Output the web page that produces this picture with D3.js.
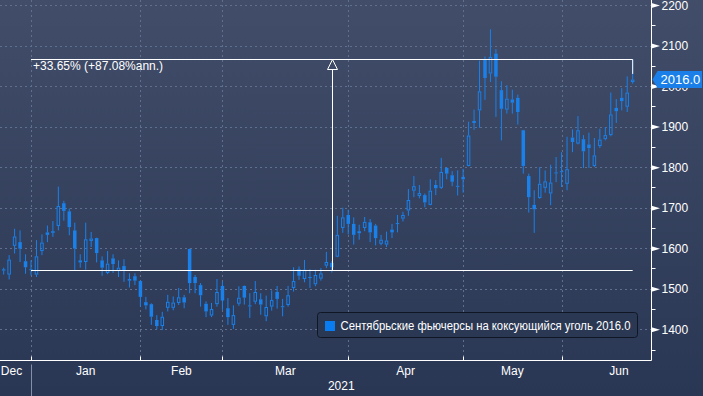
<!DOCTYPE html>
<html><head><meta charset="utf-8">
<script src="https://cdn.jsdelivr.net/npm/d3@7/dist/d3.min.js"></script>
<style>html,body{margin:0;padding:0;background:#2c3955;overflow:hidden}</style>
</head><body><svg id="c" width="703" height="396"></svg>
<script>
// ---------- data ----------
const dayIndex = d3.range(-5, 111); // trading-day index, 0 = first trading day of Jan 2021
const openVals = [1548,1535,1606,1615,1568,
1548,1535,1593,1639,1642,1655,1711,1691,1644,1570,1566,1618,1625,1570,1539,1575,1544,1556,1524,1531,
1519,1467,1462,1423,1408,1453,1453,1465,1479,1598,1529,1509,1463,1434,1462,
1507,1452,1411,1463,1507,1459,1468,1474,1432,1456,1492,1457,1460,1502,1548,1524,1529,1511,1525,1557,1564,1579,1650,
1682,1660,1642,1650,1664,1656,1611,1609,1646,1661,1673,1693,1742,1729,1731,1707,1756,1749,1798,1780,1754,
1776,1803,1914,1940,2065,2031,2080,1990,1942,1967,1971,1891,1778,1707,1724,1749,1735,1787,
1789,1759,1873,1858,1869,1856,1803,1852,1869,1879,1946,1971,1949,2010];
const highVals = [1552,1583,1648,1644,1585,
1570,1620,1634,1656,1667,1752,1717,1698,1663,1585,1663,1640,1626,1580,1593,1585,1570,1573,1538,1538,
1521,1480,1464,1435,1443,1485,1481,1502,1485,1599,1534,1514,1469,1465,1524,
1518,1477,1459,1506,1508,1489,1519,1489,1483,1496,1507,1475,1507,1553,1555,1571,1548,1547,1551,1591,1568,1680,1700,
1695,1676,1658,1677,1672,1660,1633,1641,1660,1682,1690,1746,1778,1756,1735,1770,1768,1823,1800,1790,1792,
1796,1912,1942,2063,2073,2140,2091,2012,2002,1991,1979,1892,1784,1743,1800,1792,1806,1825,
1837,1875,1893,1926,1879,1885,1872,1895,1899,1984,1968,1995,2024,2066];
const lowVals = [1535,1523,1587,1566,1537,
1533,1529,1583,1615,1628,1644,1668,1632,1546,1552,1547,1603,1565,1532,1536,1539,1529,1517,1503,1509,
1456,1449,1411,1400,1398,1444,1447,1460,1452,1489,1489,1456,1430,1430,1456,
1448,1411,1401,1458,1461,1428,1462,1436,1420,1446,1451,1432,1456,1493,1522,1516,1502,1506,1520,1551,1540,1578,1638,
1634,1609,1621,1642,1615,1607,1607,1603,1625,1639,1666,1680,1726,1723,1701,1706,1731,1746,1770,1753,1730,
1737,1802,1892,1897,1966,2010,1924,1866,1932,1932,1905,1784,1688,1638,1722,1737,1706,1763,
1751,1743,1837,1856,1798,1798,1800,1847,1866,1876,1909,1940,1936,2006];
const closeVals = [1545,1572,1629,1599,1553,
1546,1580,1614,1633,1638,1704,1692,1652,1599,1565,1622,1624,1588,1552,1562,1561,1552,1546,1520,1520,
1480,1459,1431,1408,1431,1468,1466,1479,1466,1514,1514,1484,1444,1450,1492,
1471,1430,1435,1478,1478,1458,1492,1461,1455,1472,1475,1456,1484,1519,1532,1547,1528,1534,1538,1566,1553,1633,1676,
1660,1633,1637,1665,1639,1625,1621,1619,1639,1662,1682,1719,1753,1736,1713,1742,1748,1788,1784,1764,1753,
1770,1878,1909,1987,2020,2072,2023,1944,1969,1959,1936,1803,1726,1696,1759,1765,1762,1786,
1790,1795,1862,1891,1839,1847,1829,1868,1879,1930,1938,1963,1984,2016];

const yTicks = [1400,1500,1600,1700,1800,1900,2000,2100,2200];
const yMinorTicks = [1350,1450,1550,1650,1750,1850,1950,2050,2150];
const monthLabels = ["Dec","Jan","Feb","Mar","Apr","May","Jun"];
const monthStarts = [-22,0,20,35,58,79,97];
const lastMonthEnd = 118;
const yearLabel = "2021";
const lastValue = 2016.0;
const legendName = "Сентябрьские фьючерсы на коксующийся уголь";
const baseLevel = 1546, topLevel = 2066;
const changeText = "+33.65% (+87.08%ann.)";

// ---------- layout ----------
const W = 703, H = 396;
const plotR = 651.5, plotB = 360.5;
const blue = "#1a80ea";
const font = "'Liberation Sans', Arial, sans-serif";

const svg = d3.select("#c");
const defs = svg.append("defs");
const g = defs.append("linearGradient").attr("id","bg").attr("x1",0).attr("y1",0).attr("x2",0).attr("y2",1);
g.append("stop").attr("offset","0%").attr("stop-color","#414d69");
g.append("stop").attr("offset","100%").attr("stop-color","#2a3754");
svg.append("rect").attr("width",W).attr("height",H).attr("fill","url(#bg)");

const x = d3.scaleLinear().domain([-5.67, 113.35]).range([0, 651]);
const y = d3.scaleLinear().domain([1400, 2200]).range([329.3, 5]);

// gridlines
const grid = svg.append("g").attr("stroke","#5f6f8d").attr("stroke-width",1).attr("stroke-dasharray","2,3");
grid.selectAll("line.h").data(yTicks).join("line")
  .attr("x1",0).attr("x2",plotR).attr("y1",d=>Math.round(y(d))+0.5).attr("y2",d=>Math.round(y(d))+0.5);
grid.selectAll("line.v").data(monthStarts.filter(d=>d>=0)).join("line")
  .attr("y1",0).attr("y2",plotB).attr("x1",d=>Math.round(x(d))+0.5).attr("x2",d=>Math.round(x(d))+0.5);

// candles
const candles = dayIndex.map((d,i)=>({i:d,o:openVals[i],h:highVals[i],l:lowVals[i],c:closeVals[i]}));
const cg = svg.append("g");
candles.forEach(d=>{
  const cx = x(d.i);
  const top = y(Math.max(d.o,d.c)), bot = y(Math.min(d.o,d.c));
  const up = d.c > d.o;
  let bh = Math.max(bot-top, 1);
  cg.append("line").attr("x1",cx).attr("x2",cx).attr("y1",y(d.h)).attr("y2",top)
    .attr("stroke",blue).attr("stroke-width",1);
  cg.append("line").attr("x1",cx).attr("x2",cx).attr("y1",top+bh).attr("y2",y(d.l))
    .attr("stroke",blue).attr("stroke-width",1);
  if (up && bh > 2) {
    cg.append("rect").attr("x",cx-1.25).attr("y",top+0.5).attr("width",2.5).attr("height",Math.max(bh-1,0.5))
      .attr("fill","none").attr("stroke",blue).attr("stroke-width",1);
  } else {
    cg.append("rect").attr("x",cx-1.75).attr("y",top).attr("width",3.5).attr("height",bh).attr("fill",blue);
  }
});

// axis lines
svg.append("line").attr("x1",plotR).attr("x2",plotR).attr("y1",0).attr("y2",plotB).attr("stroke","#fff").attr("stroke-width",1);
svg.append("line").attr("x1",0).attr("x2",plotR).attr("y1",plotB).attr("y2",plotB).attr("stroke","#fff").attr("stroke-width",1);

// y axis
const yAxis = d3.axisRight(y).tickValues(yTicks).tickSize(0).tickPadding(0).tickFormat(d3.format("d"));
const ya = svg.append("g").attr("transform",`translate(${plotR},0)`).call(yAxis);
ya.select(".domain").remove();
ya.selectAll(".tick text").attr("x",10).attr("fill","#fff").attr("font-size","12px").attr("font-family",font).attr("dy","0.35em");
ya.selectAll(".tick").append("path").attr("d","M0,-2.5L8.5,0L0,2.5Z").attr("fill","#fff");
svg.append("g").selectAll("line").data(yMinorTicks).join("line")
  .attr("x1",plotR).attr("x2",plotR+4).attr("y1",d=>Math.round(y(d))+0.5).attr("y2",d=>Math.round(y(d))+0.5)
  .attr("stroke","#fff");

// x axis: month ticks and labels
const mt = svg.append("g");
mt.selectAll("line").data(monthStarts.filter(d=>d>=0)).join("line")
  .attr("x1",d=>Math.round(x(d))+0.5).attr("x2",d=>Math.round(x(d))+0.5).attr("y1",plotB-4).attr("y2",plotB)
  .attr("stroke","#fff");
const ends = monthStarts.slice(1).concat([lastMonthEnd]);
mt.selectAll("text").data(monthLabels).join("text")
  .attr("x",(d,i)=>{ let cx = x((monthStarts[i]+ends[i])/2); return Math.max(cx, 11.5); })
  .attr("y",375).attr("text-anchor","middle").attr("fill","#fff")
  .attr("font-size","12px").attr("font-family",font).text(d=>d);
svg.append("line").attr("x1",Math.round(x(0))+0.5).attr("x2",Math.round(x(0))+0.5).attr("y1",plotB+4).attr("y2",H)
  .attr("stroke","#8390a8");
svg.append("text").attr("x",(x(0)+plotR)/2).attr("y",390).attr("text-anchor","middle").attr("fill","#fff")
  .attr("font-size","12px").attr("font-family",font).text(yearLabel);

// change annotation
const ann = svg.append("g").attr("stroke","#fff").attr("stroke-width",1).attr("fill","none");
ann.append("line").attr("x1",x(0)).attr("x2",x(110)).attr("y1",Math.round(y(baseLevel))+0.5).attr("y2",Math.round(y(baseLevel))+0.5);
ann.append("line").attr("x1",x(0)).attr("x2",x(110)).attr("y1",Math.round(y(topLevel))+0.5).attr("y2",Math.round(y(topLevel))+0.5);
const ax = Math.round(x(55))+0.5, ty = Math.round(y(topLevel))+0.5;
ann.append("line").attr("x1",ax).attr("x2",ax).attr("y1",ty+10).attr("y2",Math.round(y(baseLevel)));
ann.append("path").attr("d",`M${ax},${ty}L${ax-5},${ty+10}L${ax+5},${ty+10}Z`);
ann.append("line").attr("x1",x(110)).attr("x2",x(110)).attr("y1",ty).attr("y2",y(2030));
svg.append("text").attr("x",33).attr("y",70).attr("fill","#fff").attr("font-size","12px")
  .attr("font-family",font).text(changeText);

// last value tag
const ly = y(lastValue);
svg.append("path").attr("d",`M${plotR+1},${ly}L${plotR+6},${ly-8.5}L${W-1},${ly-8.5}L${W-1},${ly+8.5}L${plotR+6},${ly+8.5}Z`)
  .attr("fill","#1a7fe8");
svg.append("text").attr("x",plotR+9).attr("y",ly+4.5).attr("fill","#fff").attr("font-size","13px")
  .attr("font-family",font).text(lastValue.toFixed(1));

// legend
const lg = svg.append("g");
lg.append("rect").attr("x",317.5).attr("y",312.5).attr("width",320).attr("height",25).attr("rx",3)
  .attr("fill","#2b3854").attr("stroke","#101624");
lg.append("rect").attr("x",325).attr("y",321).attr("width",10).attr("height",10).attr("fill","#0a7cf2");
lg.append("text").attr("x",340.5).attr("y",330).attr("fill","#fff").attr("font-size","12px")
  .attr("font-family",font).attr("textLength",290).attr("lengthAdjust","spacingAndGlyphs")
  .text(legendName + "  " + lastValue.toFixed(1));
</script></body></html>
